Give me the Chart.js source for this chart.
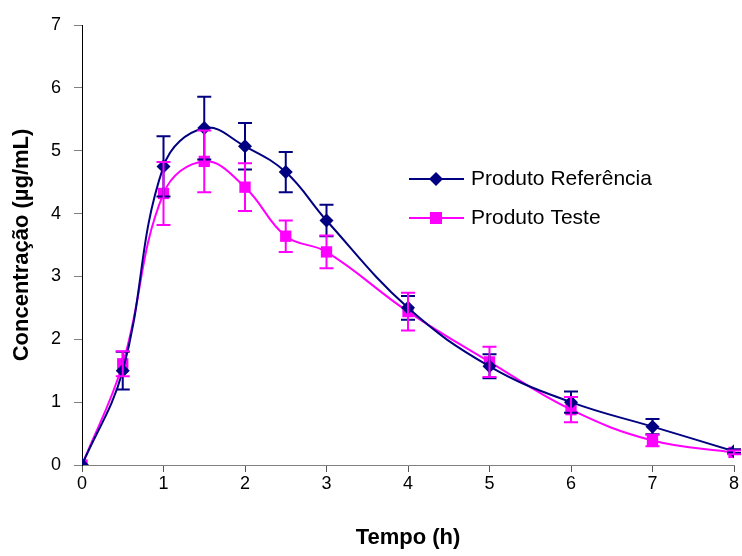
<!DOCTYPE html>
<html>
<head>
<meta charset="utf-8">
<script src="https://cdn.jsdelivr.net/npm/chart.js@4.4.1/dist/chart.umd.min.js"></script>
<style>
  html, body { margin: 0; padding: 0; background: #fff; }
  #wrap { width: 742px; height: 556px; }
</style>
</head>
<body>
<div id="wrap"><canvas id="grafico"></canvas></div>
<script>
"use strict";

// tempos de coleta (h)
var tempos = [0, 0.5, 1, 1.5, 2, 2.5, 3, 4, 5, 6, 7, 8];

// concentrações médias (µg/mL) e desvios
var referencia = [0, 1.50, 4.75, 5.36, 5.07, 4.66, 3.89, 2.50, 1.57, 1.00, 0.61, 0.22];
var referenciaDp = [0, 0.30, 0.48, 0.50, 0.37, 0.32, 0.25, 0.19, 0.19, 0.17, 0.12, 0.03];
var teste = [0, 1.61, 4.32, 4.83, 4.42, 3.64, 3.39, 2.44, 1.64, 0.88, 0.39, 0.20];
var testeDp = [0, 0.20, 0.50, 0.49, 0.38, 0.25, 0.26, 0.30, 0.24, 0.20, 0.09, 0.03];

var eixoY = [0, 1, 2, 3, 4, 5, 6, 7];
var eixoX = [0, 1, 2, 3, 4, 5, 6, 7, 8];

var AZUL = '#000080';
var ROSA = '#FF00FF';

function pontos(valores, desvios) {
    var lista = [];
    for (var i = 0; i < tempos.length; i++) {
        lista.push({ x: tempos[i], y: valores[i], dp: desvios[i] });
    }
    return lista;
}

// barras de erro e legenda desenhadas por cima das séries
var barrasErro = {
    id: 'barrasErro',
    afterDatasetsDraw: function (chart) {
        var ctx = chart.ctx;
        var sx = chart.scales.x, sy = chart.scales.y;
        chart.data.datasets.forEach(function (ds) {
            ctx.save();
            ctx.strokeStyle = ds.borderColor;
            ctx.lineWidth = 2;
            ds.data.forEach(function (p) {
                if (!p.dp) return;
                var px = sx.getPixelForValue(p.x);
                var y1 = sy.getPixelForValue(p.y + p.dp);
                var y2 = sy.getPixelForValue(p.y - p.dp);
                ctx.beginPath();
                ctx.moveTo(px, y1); ctx.lineTo(px, y2);
                ctx.moveTo(px - 7, y1); ctx.lineTo(px + 7, y1);
                ctx.moveTo(px - 7, y2); ctx.lineTo(px + 7, y2);
                ctx.stroke();
            });
            ctx.restore();
        });

        // legenda
        var lx = 409, ly = 179;
        chart.data.datasets.forEach(function (ds, k) {
            var y = ly + k * 39;
            var cx = lx + 27;
            ctx.save();
            ctx.strokeStyle = ds.borderColor;
            ctx.lineWidth = 2;
            ctx.beginPath();
            ctx.moveTo(lx, y); ctx.lineTo(lx + 55, y);
            ctx.stroke();
            ctx.fillStyle = ds.backgroundColor;
            ctx.beginPath();
            if (ds.pointStyle === 'rectRot') {
                ctx.moveTo(cx, y - 7); ctx.lineTo(cx + 7, y);
                ctx.lineTo(cx, y + 7); ctx.lineTo(cx - 7, y);
                ctx.closePath();
            } else {
                ctx.rect(cx - 6, y - 6, 12, 12);
            }
            ctx.fill();
            ctx.fillStyle = '#000';
            ctx.font = '21px "Liberation Sans", Arial, sans-serif';
            ctx.textBaseline = 'middle';
            ctx.fillText(ds.label, lx + 62, y);
            ctx.restore();
        });
    }
};

new Chart(document.getElementById('grafico').getContext('2d'), {
    type: 'line',
    data: {
        datasets: [{
            label: 'Produto Referência',
            data: pontos(referencia, referenciaDp),
            borderColor: AZUL,
            backgroundColor: AZUL,
            borderWidth: 2,
            pointStyle: 'rectRot',
            pointRadius: 7,
            pointBorderWidth: 0,
            tension: 0.4,
            fill: false
        }, {
            label: 'Produto Teste',
            data: pontos(teste, testeDp),
            borderColor: ROSA,
            backgroundColor: ROSA,
            borderWidth: 2,
            pointStyle: 'rect',
            pointRadius: 8,
            pointBorderWidth: 0,
            tension: 0.4,
            fill: false
        }]
    },
    options: {
        responsive: true,
        maintainAspectRatio: false,
        animation: false,
        layout: { padding: { top: 25, right: 0, left: 9, bottom: 0 } },
        plugins: {
            legend: { display: false },
            tooltip: { enabled: false }
        },
        scales: {
            x: {
                type: 'linear',
                min: 0,
                max: 8,
                afterBuildTicks: function (s) { s.ticks = eixoX.map(function (v) { return { value: v }; }); },
                afterFit: function (s) { s.height = 91; },
                grid: { drawOnChartArea: false, drawTicks: true, tickLength: 7, color: '#555' },
                border: { display: true, color: '#808080', width: 1 },
                ticks: {
                    color: '#000',
                    padding: 1,
                    maxRotation: 0,
                    font: { family: '"Liberation Sans", Arial, sans-serif', size: 18 }
                },
                title: {
                    display: true,
                    text: 'Tempo (h)',
                    color: '#000',
                    padding: { top: 0, bottom: 5 },
                    font: { family: '"Liberation Sans", Arial, sans-serif', size: 22, weight: 'bold' }
                }
            },
            y: {
                min: 0,
                max: 7,
                afterBuildTicks: function (s) { s.ticks = eixoY.map(function (v) { return { value: v }; }); },
                afterFit: function (s) { s.width = 73; },
                grid: { drawOnChartArea: false, drawTicks: true, tickLength: 8, color: '#808080' },
                border: { display: true, color: '#000', width: 1 },
                ticks: {
                    color: '#000',
                    padding: 13,
                    font: { family: '"Liberation Sans", Arial, sans-serif', size: 18 }
                },
                title: {
                    display: true,
                    text: 'Concentração (µg/mL)',
                    color: '#000',
                    padding: { top: 0, bottom: 0 },
                    font: { family: '"Liberation Sans", Arial, sans-serif', size: 22, weight: 'bold' }
                }
            }
        }
    },
    plugins: [barrasErro]
});
</script>
</body>
</html>
